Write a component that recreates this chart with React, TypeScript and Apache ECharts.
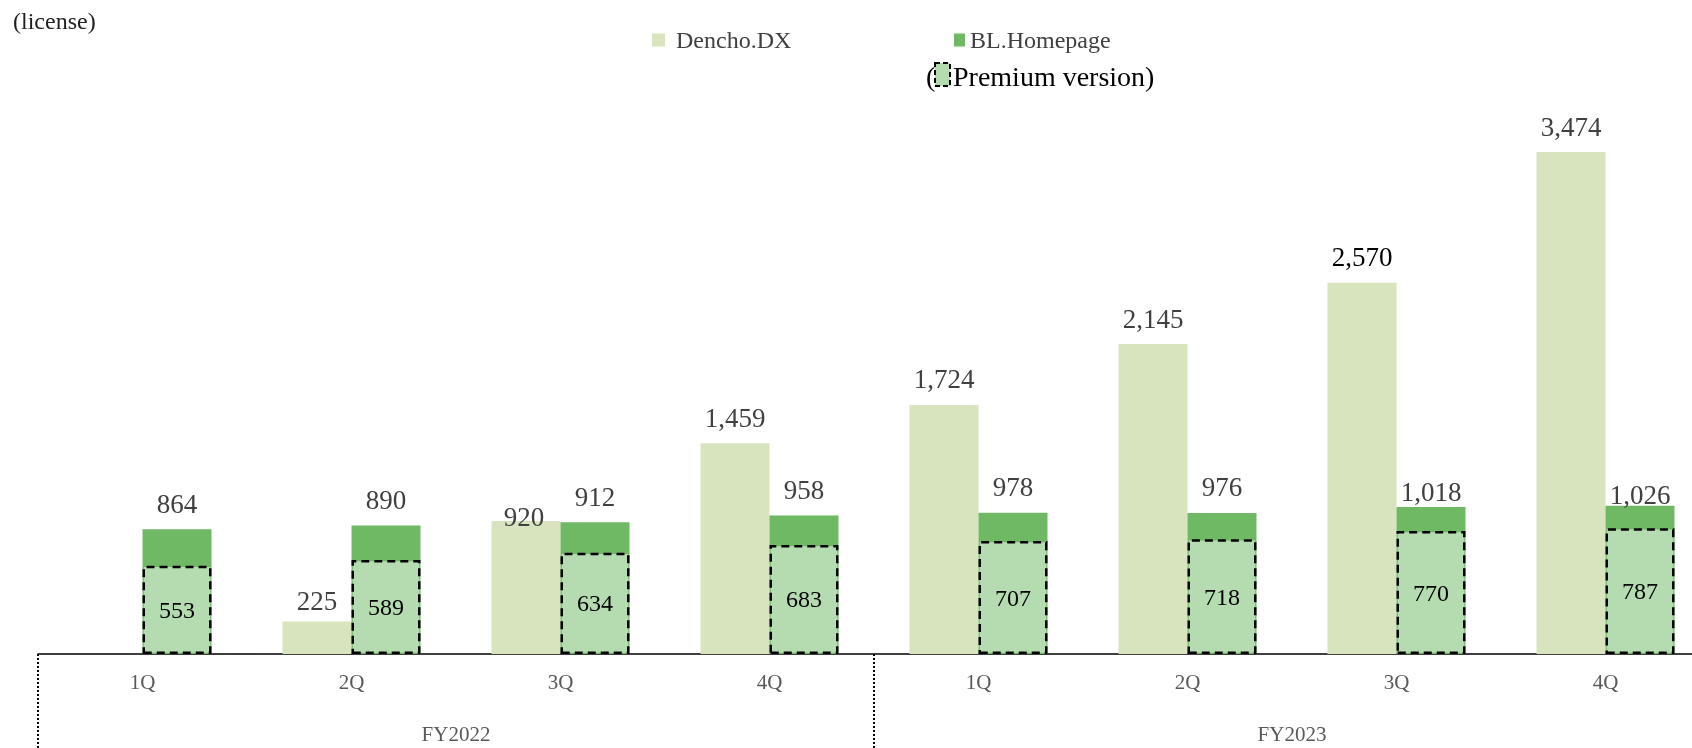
import React, { useEffect, useRef } from "react";
import * as echarts from "echarts";

const quarters = ["1Q", "2Q", "3Q", "4Q", "1Q", "2Q", "3Q", "4Q"];
const fiscalYears = ["FY2022", "FY2023"];
const denchoDX = [null, 225, 920, 1459, 1724, 2145, 2570, 3474];
const blHomepage = [864, 890, 912, 958, 978, 976, 1018, 1026];
const premiumVersion = [553, 589, 634, 683, 707, 718, 770, 787];

const SERIF = "'Liberation Serif', 'Times New Roman', serif";
const C_DENCHO = "#d8e4bd";
const C_BL = "#6fb965";
const C_PREMIUM = "#b5dcb0";

// label tweaks (Excel-like manual placements)
const denchoLabelOffsets: Record<number, number[]> = { 1: [0, 5], 2: [-2, 21] };
const denchoLabelColors: Record<number, string> = { 6: "#000000" };
const blLabelOffsets: Record<number, number[]> = { 6: [0, 11], 7: [0, 15] };

const fmt = (v: any) => (v == null ? "" : Number(v).toLocaleString("en-US"));

export default function App() {
  const ref = useRef<HTMLDivElement>(null);

  useEffect(() => {
    if (!ref.current) return;
    const chart = echarts.init(ref.current, undefined, { renderer: "svg" });

    const topLabel = {
      show: true,
      position: "top",
      distance: 12,
      fontFamily: SERIF,
      fontSize: 27,
      color: "#404040",
      formatter: (p: any) => fmt(p.value),
    };

    const denchoData = denchoDX.map((v, i) => ({
      value: v,
      label: {
        offset: denchoLabelOffsets[i] || [0, 0],
        color: denchoLabelColors[i] || "#404040",
      },
    }));
    const blData = blHomepage.map((v, i) => ({
      value: v,
      label: { offset: blLabelOffsets[i] || [0, 0] },
    }));

    const option: any = {
      animation: false,
      textStyle: { fontFamily: SERIF },
      grid: {
        left: 38,
        width: 1672,
        top: 76,
        bottom: 94,
        containLabel: false,
        outerBoundsMode: "none",
      },
      legend: [
        {
          data: ["Dencho.DX"],
          left: 652,
          top: 28,
          padding: 0,
          icon: "rect",
          itemWidth: 13,
          itemHeight: 13,
          textStyle: { fontFamily: SERIF, fontSize: 24, color: "#404040", padding: [0, 0, 0, 6] },
        },
        {
          data: ["BL.Homepage"],
          left: 954,
          top: 28,
          padding: 0,
          icon: "rect",
          itemWidth: 11,
          itemHeight: 13,
          textStyle: { fontFamily: SERIF, fontSize: 24, color: "#404040" },
        },
      ],
      graphic: [
        {
          type: "text",
          left: 13,
          top: 9,
          style: { text: "(license)", font: `24px ${SERIF}`, fill: "#1f1f1f" },
        },
        {
          type: "text",
          x: 926,
          y: 76,
          style: { text: "(", font: `28px ${SERIF}`, fill: "#000", verticalAlign: "middle" },
        },
        {
          type: "rect",
          shape: { x: 935, y: 63, width: 15, height: 23 },
          style: { fill: C_PREMIUM, stroke: "#000", lineWidth: 2, lineDash: [5, 3] },
        },
        {
          type: "text",
          x: 953,
          y: 76,
          style: { text: "Premium version)", font: `28px ${SERIF}`, fill: "#000", verticalAlign: "middle" },
        },
      ],
      xAxis: [
        {
          type: "category",
          data: quarters,
          position: "bottom",
          axisLine: { show: true, lineStyle: { color: "#000", width: 1.5 } },
          axisTick: { show: false },
          axisLabel: { margin: 17, fontFamily: SERIF, fontSize: 21, color: "#595959" },
        },
        {
          type: "category",
          data: quarters,
          position: "bottom",
          show: false,
        },
        {
          type: "category",
          data: fiscalYears,
          position: "bottom",
          axisLine: { show: false },
          axisTick: { show: true, length: 94, lineStyle: { color: "#000", width: 2, type: [2, 2] } },
          axisLabel: { margin: 69, fontFamily: SERIF, fontSize: 21, color: "#595959" },
        },
      ],
      yAxis: [
        { type: "value", min: 0, max: 4000, show: false, position: "left" },
        { type: "value", min: 0, max: 3620, show: false, position: "right" },
      ],
      series: [
        {
          name: "Dencho.DX",
          type: "bar",
          xAxisIndex: 0,
          yAxisIndex: 0,
          barWidth: 69,
          barGap: "0%",
          itemStyle: { color: C_DENCHO },
          label: topLabel,
          data: denchoData,
        },
        {
          name: "BL.Homepage",
          type: "bar",
          xAxisIndex: 0,
          yAxisIndex: 0,
          barWidth: 69,
          barGap: "0%",
          itemStyle: { color: C_BL },
          label: topLabel,
          data: blData,
        },
        {
          name: "_slot",
          type: "bar",
          xAxisIndex: 1,
          yAxisIndex: 1,
          barWidth: 69,
          barGap: "0%",
          data: quarters.map(() => null),
        },
        {
          name: "Premium version",
          type: "bar",
          xAxisIndex: 1,
          yAxisIndex: 1,
          barWidth: 69,
          barGap: "0%",
          itemStyle: {
            color: C_PREMIUM,
            borderColor: "#000",
            borderWidth: 2.5,
            borderType: [8, 5],
          },
          label: {
            show: true,
            position: "inside",
            fontFamily: SERIF,
            fontSize: 24,
            color: "#000",
          },
          data: premiumVersion,
        },
      ],
    };

    chart.setOption(option);
    return () => chart.dispose();
  }, []);

  return (
    <div
      ref={ref}
      style={{ position: "fixed", left: 0, top: 0, width: 1692, height: 748 }}
    />
  );
}
